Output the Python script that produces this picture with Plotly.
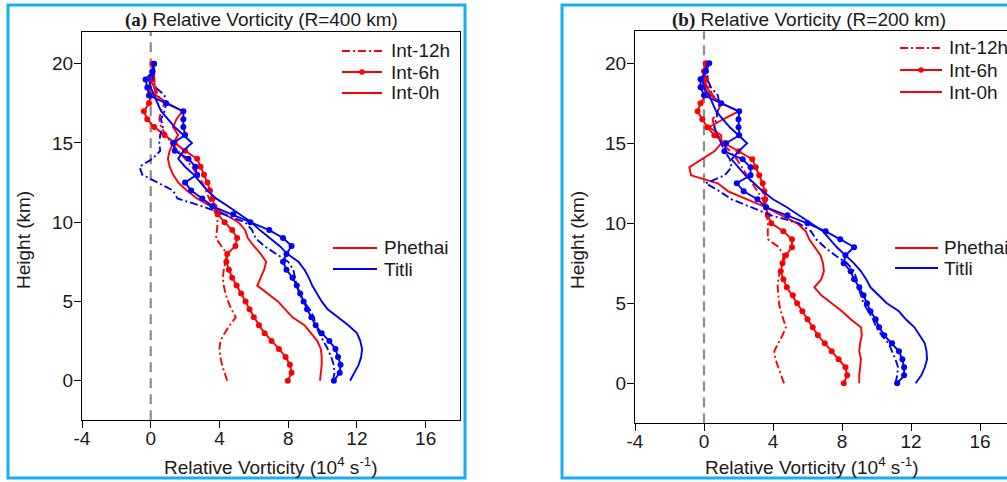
import plotly.graph_objects as go

# ---------------- data ----------------
HEIGHTS = [0.0, 0.5, 1.0, 1.5, 2.0, 2.5, 3.0, 3.5, 4.0, 4.5, 5.0, 5.5, 6.0, 6.5, 7.0,
           7.5, 8.0, 8.5, 9.0, 9.5, 10.0, 10.5, 11.0, 11.5, 12.0, 12.5, 13.0, 13.5,
           14.0, 14.5, 15.0, 15.5, 16.0, 16.5, 17.0, 17.5, 18.0, 18.5, 19.0, 19.5, 20.0]

X_TICKS = [-4, 0, 4, 8, 12, 16]
X_TICK_TEXT = ["-4", "0", "4", "8", "12", "16"]
Y_TICKS = [0, 5, 10, 15, 20]

# Panel (a) R = 400 km
A_PHETHAI_12 = [4.45, 4.3, 4.15, 4.05, 4.0, 4.05, 4.3, 4.6, 4.95, 4.7, 4.5, 4.35, 4.25, 4.2, 4.25,
                4.35, 4.45, 4.1, 3.8, 3.85, 3.9, 3.8, 3.6, 3.4, 3.2, 3.0, 2.7, 2.4,
                2.0, 1.6, 1.2, 0.9, 0.6, 0.5, 0.6, 0.8, 0.4, 0.3, 0.2, 0.2, 0.2]
A_PHETHAI_6 = [7.98, 8.2, 8.1, 7.85, 7.46, 7.03, 6.63, 6.3, 6.0, 5.75, 5.52, 5.26, 5.0, 4.74, 4.55,
               4.4, 4.45, 4.93, 5.03, 4.74, 4.3, 3.9, 3.7, 3.6, 3.45, 3.3, 3.1, 2.9,
               2.7, 2.0, 1.4, 0.8, 0.2, -0.2, -0.4, -0.1, 0.0, -0.1, 0.1, 0.1, 0.1]
A_PHETHAI_0 = [9.85, 9.9, 9.95, 9.95, 9.9, 9.7, 9.35, 8.95, 8.25, 7.8, 7.4, 6.8, 6.2, 6.4, 6.6,
               6.72, 6.4, 6.0, 5.65, 5.5, 5.1, 4.3, 3.5, 2.7, 2.1, 1.6, 1.3, 1.1,
               1.0, 1.1, 1.3, 1.6, 1.3, 1.5, 1.85, 1.0, 0.3, 0.2, 0.0, 0.1, 0.2]
A_TITLI_12 = [10.6, 10.7, 10.65, 10.5, 10.3, 10.05, 9.8, 9.6, 9.5, 9.25, 8.9, 8.65, 8.5, 8.4, 8.3,
              8.0, 7.3, 6.6, 6.1, 5.9, 5.5, 4.3, 3.0, 1.55, 1.3, 0.4, -0.5, -0.65,
              0.1, 0.55, 0.5, 0.55, 0.7, 0.6, 0.8, 0.9, 0.8, 0.3, 0.1, 0.2, 0.2]
A_TITLI_6 = [10.66, 11.0, 11.05, 10.9, 10.75, 10.4, 9.95, 9.6, 9.35, 9.1, 8.9, 8.7, 8.5, 8.25, 7.9,
             7.7, 7.9, 8.2, 7.7, 6.9, 5.8, 4.8, 3.6, 3.0, 2.35, 2.0, 2.7, 2.6,
             2.2, 1.4, 1.3, 2.0, 1.9, 1.9, 1.9, 0.9, -0.1, -0.2, -0.3, 0.1, 0.2]
A_TITLI_0 = [11.6, 11.85, 12.1, 12.25, 12.3, 12.2, 12.0, 11.5, 10.9, 10.3, 9.95, 9.65, 9.4, 9.2, 8.95,
             8.6, 7.95, 7.5, 6.9, 6.35, 5.85, 5.2, 4.5, 3.8, 3.3, 2.9, 2.5, 2.0,
             1.6, 1.9, 2.4, 1.9, 1.4, 1.0, 0.6, 0.4, 0.2, 0.0, -0.1, 0.1, 0.2]

# Panel (b) R = 200 km
B_PHETHAI_12 = [4.64, 4.45, 4.3, 4.15, 4.07, 4.3, 4.55, 4.75, 4.6, 4.45, 4.35, 4.3, 4.27, 4.3, 4.4,
                4.55, 4.6, 4.35, 3.7, 3.7, 3.7, 3.65, 3.6, 3.4, 3.1, 2.8, 2.5, 2.2,
                1.9, 1.5, 1.1, 0.8, 0.6, 0.5, 0.8, 1.0, 0.5, 0.3, 0.2, 0.2, 0.2]
B_PHETHAI_6 = [8.1, 8.3, 8.2, 7.8, 7.4, 7.0, 6.6, 6.3, 6.0, 5.7, 5.4, 5.15, 4.8, 4.6, 4.45,
               4.55, 4.75, 5.1, 5.1, 4.6, 3.9, 3.7, 3.6, 3.55, 3.5, 3.4, 3.2, 3.0,
               2.8, 2.0, 1.2, 0.6, 0.2, -0.1, -0.37, -0.2, 0.1, 0.0, 0.1, 0.0, 0.1]
B_PHETHAI_0 = [9.0, 9.0, 9.05, 9.1, 9.0, 9.05, 9.15, 9.1, 8.5, 8.0, 7.4, 6.8, 6.4, 6.8, 6.95,
               6.9, 6.75, 6.4, 6.1, 5.9, 5.4, 4.5, 3.6, 2.5, 1.4, 0.8, -0.75, -0.85,
               -0.1, 0.6, 1.0, 1.0, 0.3, 1.1, 2.0, 1.0, 0.4, 0.2, 0.0, 0.1, 0.1]
B_TITLI_12 = [11.1, 11.2, 11.25, 11.1, 10.9, 10.7, 10.3, 10.0, 9.8, 9.5, 9.25, 9.1, 8.95, 8.85, 8.7,
              8.3, 7.6, 7.0, 6.5, 6.2, 5.5, 3.9, 2.7, 1.6, 0.9, 0.1, 1.2, 1.6,
              1.5, 1.2, 1.0, 0.8, 0.6, 0.7, 0.8, 0.9, 0.8, 0.4, 0.2, 0.2, 0.2]
B_TITLI_6 = [11.2, 11.6, 11.6, 11.5, 11.3, 10.9, 10.45, 10.15, 9.95, 9.65, 9.45, 9.25, 9.0, 8.7, 8.5,
             8.1, 8.2, 8.7, 7.9, 7.05, 6.0, 4.84, 3.6, 3.1, 2.3, 1.9, 2.7, 2.7,
             2.24, 1.18, 1.28, 2.04, 2.0, 2.0, 2.04, 1.0, 0.0, -0.2, -0.2, 0.1, 0.3]
B_TITLI_0 = [12.27, 12.6, 12.8, 12.93, 12.9, 12.8, 12.5, 12.2, 11.7, 11.3, 10.6, 10.1, 9.65, 9.4, 9.1,
             8.7, 8.2, 7.7, 7.3, 6.9, 6.2, 5.5, 4.8, 4.0, 3.4, 2.9, 2.4, 2.0,
             1.6, 2.0, 2.5, 2.0, 1.5, 1.1, 0.7, 0.5, 0.3, 0.0, -0.1, 0.1, 0.2]

PANEL_TITLES = ["Relative Vorticity (R=400 km)", "Relative Vorticity (R=200 km)"]
PANEL_TAGS = ["(a)", "(b)"]
INT_LABELS = ["Int-12h", "Int-6h", "Int-0h"]
STORM_LABELS = ["Phethai", "Titli"]

# ---------------- styling ----------------
W, H = 1007, 482
FONT = "Arial, Liberation Sans, sans-serif"
FS = 19
TXT = "#1a1a1a"
RED = "#ff0000"
BLUE = "#0000ff"
GREY = "#8c8c8c"
FRAME = "#14aff0"
LW = 1.9
DASHDOT = "8px,3px,2px,3px"


def px(x):
    return x / W


def py(y):
    return 1 - y / H


fig = go.Figure()

panels = [
    ("x", "y", [A_PHETHAI_12, A_PHETHAI_6, A_PHETHAI_0], [A_TITLI_12, A_TITLI_6, A_TITLI_0]),
    ("x2", "y2", [B_PHETHAI_12, B_PHETHAI_6, B_PHETHAI_0], [B_TITLI_12, B_TITLI_6, B_TITLI_0]),
]

for xa, ya, red_series, blue_series in panels:
    for color, series in ((RED, red_series), (BLUE, blue_series)):
        s12, s6, s0 = series
        fig.add_trace(go.Scatter(x=s12, y=HEIGHTS, mode="lines", xaxis=xa, yaxis=ya,
                                 line=dict(color=color, width=LW, dash=DASHDOT),
                                 showlegend=False, hoverinfo="skip"))
        fig.add_trace(go.Scatter(x=s6, y=HEIGHTS, mode="lines+markers", xaxis=xa, yaxis=ya,
                                 line=dict(color=color, width=LW),
                                 marker=dict(color=color, size=6),
                                 showlegend=False, hoverinfo="skip"))
        fig.add_trace(go.Scatter(x=s0, y=HEIGHTS, mode="lines", xaxis=xa, yaxis=ya,
                                 line=dict(color=color, width=LW),
                                 showlegend=False, hoverinfo="skip"))

axis_common = dict(showgrid=False, zeroline=False, showline=True, linecolor="#000000",
                   linewidth=1.2, ticks="outside", ticklen=7, tickwidth=1.2,
                   tickcolor="#000000", automargin=False,
                   tickfont=dict(family=FONT, size=FS, color=TXT))

fig.update_layout(
    width=W, height=H,
    margin=dict(l=0, r=0, t=0, b=0, autoexpand=False),
    paper_bgcolor="white", plot_bgcolor="white",
    showlegend=False,
    font=dict(family=FONT, size=FS, color=TXT),
    xaxis=dict(domain=[px(82), px(460)], range=[-4, 18], tickvals=X_TICKS, ticktext=X_TICK_TEXT,
               anchor="y", mirror=True, ticklabelstandoff=-6, **axis_common),
    yaxis=dict(domain=[py(420.3), py(32)], range=[-2.5, 22], tickvals=Y_TICKS, anchor="x",
               mirror=True, ticklabelstandoff=-3, **axis_common),
    xaxis2=dict(domain=[px(635), 1.0], range=[-4, 17.565], tickvals=X_TICKS, ticktext=X_TICK_TEXT,
                anchor="y2", mirror=True, ticklabelstandoff=-6, **axis_common),
    yaxis2=dict(domain=[py(423.3), py(31.3)], range=[-2.5, 22], tickvals=Y_TICKS, anchor="x2",
                mirror=False, ticklabelstandoff=-3, **axis_common),
)

shapes = []
annotations = []

# zero reference lines
for xa, ya in (("x", "y"), ("x2", "y2")):
    shapes.append(dict(type="line", xref=xa, yref=ya, x0=0, x1=0, y0=-2.5, y1=22,
                       line=dict(color=GREY, width=2.2, dash="10px,6px"), layer="below"))

# blue panel borders
shapes.append(dict(type="rect", xref="paper", yref="paper", x0=px(8), x1=px(465),
                   y0=py(478), y1=py(5), line=dict(color=FRAME, width=3)))
shapes.append(dict(type="rect", xref="paper", yref="paper", x0=px(562), x1=px(1030),
                   y0=py(478), y1=py(5), line=dict(color=FRAME, width=3)))

# titles
title_cx = [261, 809]
for tag, title, cx in zip(PANEL_TAGS, PANEL_TITLES, title_cx):
    annotations.append(dict(
        xref="paper", yref="paper", x=px(cx), y=py(20), xanchor="center", yanchor="middle",
        showarrow=False, font=dict(family=FONT, size=FS, color=TXT),
        text="<span style='font-family:Liberation Serif, Times New Roman, serif'><b>" + tag +
             "</b></span> " + title))

# axis titles
xt_cx = [271, 812]
yt_cx = [23, 577]
for cx in xt_cx:
    annotations.append(dict(
        xref="paper", yref="paper", x=px(cx), y=py(466), xanchor="center", yanchor="middle",
        showarrow=False, font=dict(family=FONT, size=FS, color=TXT),
        text="Relative Vorticity (10<sup>4</sup> s<sup>-1</sup>)"))
for cx in yt_cx:
    annotations.append(dict(
        xref="paper", yref="paper", x=px(cx), y=py(240), xanchor="center", yanchor="middle",
        showarrow=False, textangle=-90, font=dict(family=FONT, size=FS, color=TXT),
        text="Height (km)"))

# legends (drawn)
int_legends = [dict(x0=342, x1=382, tx=389, rows=[51, 72, 93]),
               dict(x0=900, x1=942, tx=947, rows=[48, 70, 92])]
storm_legends = [dict(x0=333, x1=377, tx=382, rows=[248, 269]),
                 dict(x0=895, x1=938, tx=942, rows=[248, 268])]
int_dashes = [DASHDOT, "solid", "solid"]

for lg in int_legends:
    for i, (lab, dsh) in enumerate(zip(INT_LABELS, int_dashes)):
        yy = lg["rows"][i]
        shapes.append(dict(type="line", xref="paper", yref="paper",
                           x0=px(lg["x0"]), x1=px(lg["x1"]), y0=py(yy), y1=py(yy),
                           line=dict(color=RED, width=LW, dash=dsh)))
        if i == 1:
            cx = (lg["x0"] + lg["x1"]) / 2
            shapes.append(dict(type="circle", xref="paper", yref="paper",
                               x0=px(cx - 2.8), x1=px(cx + 2.8), y0=py(yy + 2.8), y1=py(yy - 2.8),
                               fillcolor=RED, line=dict(color=RED, width=0)))
        annotations.append(dict(xref="paper", yref="paper", x=px(lg["tx"]), y=py(yy),
                                xanchor="left", yanchor="middle", showarrow=False,
                                font=dict(family=FONT, size=FS, color=TXT), text=lab))

for lg in storm_legends:
    for i, (lab, col) in enumerate(zip(STORM_LABELS, [RED, BLUE])):
        yy = lg["rows"][i]
        shapes.append(dict(type="line", xref="paper", yref="paper",
                           x0=px(lg["x0"]), x1=px(lg["x1"]), y0=py(yy), y1=py(yy),
                           line=dict(color=col, width=LW)))
        annotations.append(dict(xref="paper", yref="paper", x=px(lg["tx"]), y=py(yy),
                                xanchor="left", yanchor="middle", showarrow=False,
                                font=dict(family=FONT, size=FS, color=TXT), text=lab))

fig.update_layout(shapes=shapes, annotations=annotations)

fig.write_html("out.html")
